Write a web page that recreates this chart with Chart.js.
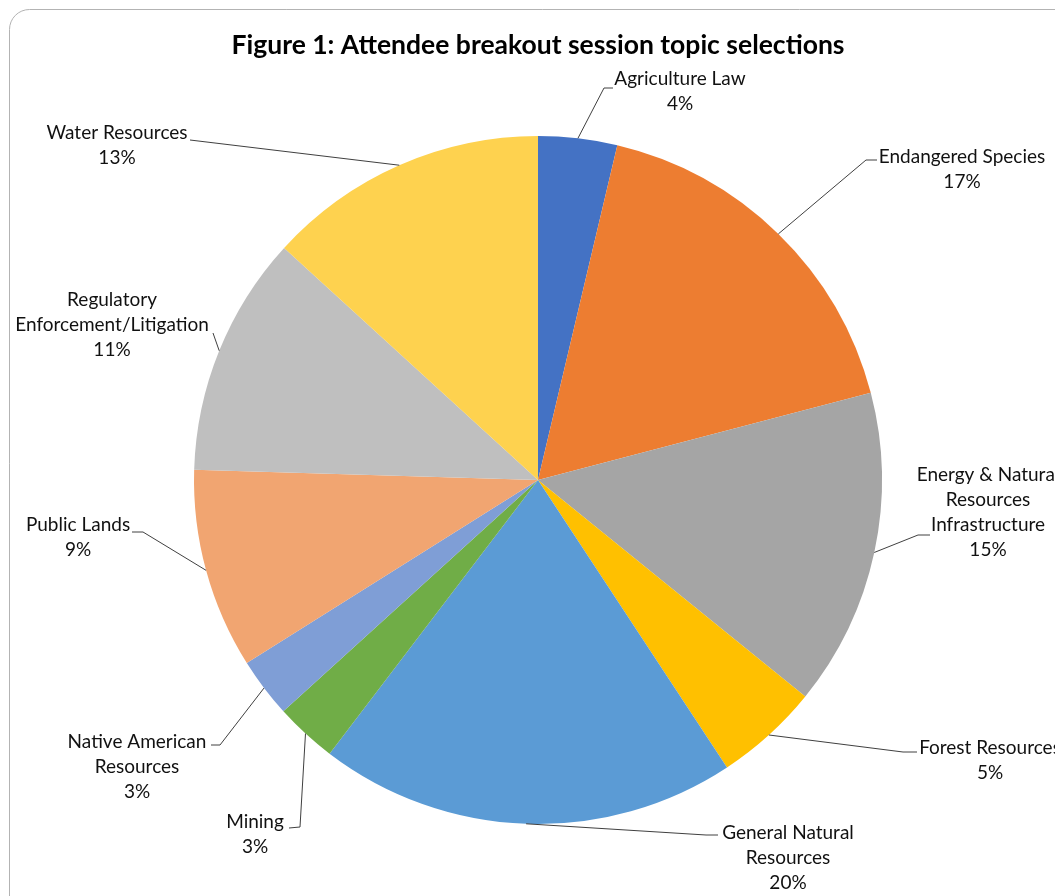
<!DOCTYPE html>
<html>
<head>
<meta charset="utf-8">
<script src="https://cdn.jsdelivr.net/npm/chart.js@4.4.1/dist/chart.umd.min.js"></script>
<style>
  html, body { margin: 0; padding: 0; background: #fff; overflow: hidden; }
  canvas { display: block; }
</style>
</head>
<body>
<canvas id="pie" width="1055" height="896"></canvas>
<script>
// topic names (wrapped the way the figure shows them)
const topics = [
    ['Agriculture Law'],
    ['Endangered Species'],
    ['Energy & Natural', 'Resources', 'Infrastructure'],
    ['Forest Resources'],
    ['General Natural', 'Resources'],
    ['Mining'],
    ['Native American', 'Resources'],
    ['Public Lands'],
    ['Regulatory', 'Enforcement/Litigation'],
    ['Water Resources']
];
// share of selections
const shares = [3.7, 17.2, 14.9, 4.9, 19.6, 2.9, 2.8, 9.4, 11.3, 13.2];
const sliceColors = ['#4472c4', '#ed7d31', '#a5a5a5', '#ffc000', '#5b9bd5',
                     '#70ad47', '#7f9ed6', '#f1a571', '#bfbfbf', '#fed24f'];

// where each data label sits: text centre x, first line y, leader knee and leader end
const labelSpots = [
    { x: 680, y: 79,  knee: [604, 88],  end: [613, 88] },
    { x: 962, y: 157, knee: [866, 160], end: [877, 160] },
    { x: 988, y: 475, knee: [918, 535], end: [930, 535] },
    { x: 990, y: 748, knee: [903, 752], end: [917, 752] },
    { x: 788, y: 833, knee: [706, 835], end: [718, 835] },
    { x: 255, y: 822, knee: [300, 827], end: [289, 828] },
    { x: 137, y: 742, knee: [220, 745], end: [211, 745] },
    { x: 78,  y: 525, knee: [143, 532], end: [132, 532] },
    { x: 112, y: 300, knee: [213, 333], end: [213, 333] },
    { x: 117, y: 133, knee: [190, 140], end: [190, 140] }
];

const frameAndLabels = {
    id: 'frameAndLabels',
    beforeDraw(chart) {
        const ctx = chart.ctx;
        ctx.save();
        ctx.fillStyle = '#fff';
        ctx.fillRect(0, 0, chart.width, chart.height);
        ctx.strokeStyle = '#b3b3b3';
        ctx.lineWidth = 1;
        ctx.beginPath();
        ctx.roundRect(9.5, 9.5, 1200, 1000, 20);
        ctx.stroke();
        ctx.restore();
    },
    afterDraw(chart) {
        const ctx = chart.ctx;
        const meta = chart.getDatasetMeta(0);
        const total = shares.reduce((a, b) => a + b, 0);
        ctx.save();
        // title
        ctx.fillStyle = '#000';
        ctx.font = 'bold 26.5px Lato';
        ctx.textAlign = 'center';
        ctx.textBaseline = 'middle';
        ctx.fillText('Figure 1: Attendee breakout session topic selections', 538, 45);

        ctx.font = '19px Lato';
        meta.data.forEach((arc, i) => {
            const spot = labelSpots[i];
            const mid = (arc.startAngle + arc.endAngle) / 2;
            const sx = arc.x + Math.cos(mid) * arc.outerRadius;
            const sy = arc.y + Math.sin(mid) * arc.outerRadius;
            ctx.strokeStyle = '#404040';
            ctx.lineWidth = 1;
            ctx.beginPath();
            ctx.moveTo(sx, sy);
            ctx.lineTo(spot.knee[0], spot.knee[1]);
            ctx.lineTo(spot.end[0], spot.end[1]);
            ctx.stroke();

            const lines = topics[i].concat([Math.round(shares[i] / total * 100) + '%']);
            ctx.fillStyle = '#111';
            lines.forEach((t, k) => ctx.fillText(t, spot.x, spot.y + k * 25));
        });
        ctx.restore();
    }
};

new Chart(document.getElementById('pie'), {
    type: 'pie',
    data: {
        labels: topics,
        datasets: [{
            data: shares,
            backgroundColor: sliceColors,
            borderWidth: 0
        }]
    },
    options: {
        responsive: false,
        animation: false,
        devicePixelRatio: 1,
        layout: { padding: { top: 136, bottom: 72, left: 194, right: 173 } },
        plugins: {
            legend: { display: false },
            tooltip: { enabled: false }
        }
    },
    plugins: [frameAndLabels]
});
</script>
</body>
</html>
